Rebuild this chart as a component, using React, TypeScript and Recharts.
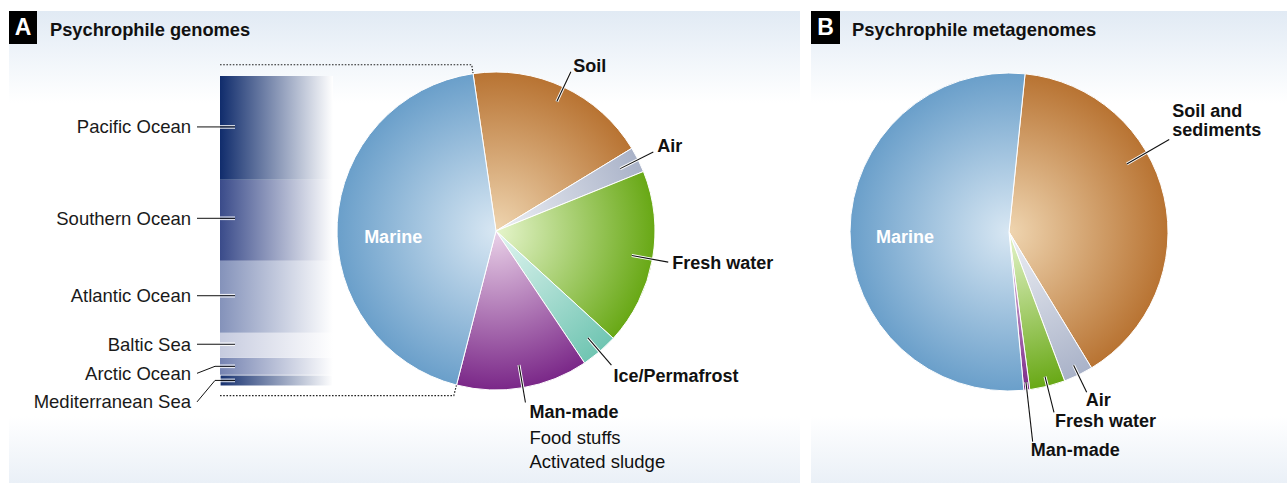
import * as React from "react";
import { Bar, BarChart, Cell, LabelList, Pie, PieChart, XAxis, YAxis } from "recharts";

const FONT = '"Liberation Sans", Arial, Helvetica, sans-serif';

// Panel A: psychrophile genomes by isolation habitat (share, %), clockwise from the top
const genomeHabitats = ["Soil", "Air", "Fresh water", "Ice/Permafrost", "Man-made", "Marine"];
const genomeShares = [18.6, 2.6, 17.9, 3.8, 13.4, 43.7];

// Marine genomes split by ocean / sea (share of marine, %), stacked bottom to top
const marineRegions = [
  "Mediterranean Sea",
  "Arctic Ocean",
  "Baltic Sea",
  "Atlantic Ocean",
  "Southern Ocean",
  "Pacific Ocean",
];
const marineShares = [3.6, 5.5, 8.1, 23.2, 26.1, 33.5];

// Panel B: psychrophile metagenomes by habitat (share, %)
const metaHabitats = ["Soil and sediments", "Air", "Fresh water", "Man-made", "Marine"];
const metaShares = [39.7, 3.0, 3.6, 0.6, 53.1];

const genomeData = genomeHabitats.map((name, i) => ({ name, value: genomeShares[i] }));
const metaData = metaHabitats.map((name, i) => ({ name, value: metaShares[i] }));
const marineRow: Record<string, number | string> = { name: "Marine" };
marineRegions.forEach((r, i) => (marineRow[r] = marineShares[i]));

// radial gradient colours: [centre, rim]
const SLICE_COLORS: Record<string, [string, string]> = {
  Marine: ["#d8e7f3", "#6a9fca"],
  Soil: ["#efd5b0", "#b87332"],
  "Soil and sediments": ["#efd5b0", "#b87332"],
  Air: ["#eef0f5", "#a9b2c8"],
  "Fresh water": ["#e6f5cc", "#68a815"],
  "Ice/Permafrost": ["#e2f5f1", "#70c5b2"],
  "Man-made": ["#ead2e8", "#7a2788"],
};

const REGION_COLORS: Record<string, string> = {
  "Pacific Ocean": "#102c6c",
  "Southern Ocean": "#3a4b8a",
  "Atlantic Ocean": "#8492ba",
  "Baltic Sea": "#c6cbdf",
  "Arctic Ocean": "#7583b1",
  "Mediterranean Sea": "#15306f",
};

// text offset of each region label from the middle of its segment
const REGION_TEXT_DY: Record<string, number> = {
  "Pacific Ocean": -1,
  "Southern Ocean": -2,
  "Atlantic Ocean": -1,
  "Baltic Sea": -1,
  "Arctic Ocean": 7,
  "Mediterranean Sea": 21.5,
};

type LabelCfg = {
  inside?: boolean;
  angle?: number; // clockwise from 12 o'clock, overrides the slice middle
  r1: number;
  r2: number;
  dx: number;
  anchor: "start" | "middle" | "end";
  lines: { text: string; dy: number; bold?: boolean }[];
};

const GENOME_LABELS: Record<string, LabelCfg> = {
  Marine: { inside: true, r1: 0, r2: 103, dx: 0, anchor: "middle", lines: [{ text: "Marine", dy: 11.5, bold: true }] },
  Soil: { r1: 143, r2: 176, dx: 19, anchor: "middle", lines: [{ text: "Soil", dy: -6, bold: true }] },
  Air: { r1: 139, r2: 176, dx: 4, anchor: "start", lines: [{ text: "Air", dy: -6, bold: true }] },
  "Fresh water": { r1: 138, r2: 175, dx: 4, anchor: "start", lines: [{ text: "Fresh water", dy: 1, bold: true }] },
  "Ice/Permafrost": { r1: 141, r2: 177, dx: 2, anchor: "start", lines: [{ text: "Ice/Permafrost", dy: 11, bold: true }] },
  "Man-made": {
    r1: 136,
    r2: 174,
    dx: 4,
    anchor: "start",
    lines: [
      { text: "Man-made", dy: 10, bold: true },
      { text: "Food stuffs", dy: 35 },
      { text: "Activated sludge", dy: 59 },
    ],
  },
};

const META_LABELS: Record<string, LabelCfg> = {
  Marine: { inside: true, r1: 0, r2: 104, dx: 0, anchor: "middle", lines: [{ text: "Marine", dy: 5, bold: true }] },
  "Soil and sediments": {
    angle: 60,
    r1: 136,
    r2: 185,
    dx: 3,
    anchor: "start",
    lines: [
      { text: "Soil and", dy: -28.5, bold: true },
      { text: "sediments", dy: -9.5, bold: true },
    ],
  },
  Air: { r1: 148, r2: 178, dx: -1, anchor: "start", lines: [{ text: "Air", dy: 8, bold: true }] },
  "Fresh water": { r1: 149, r2: 186, dx: 1, anchor: "start", lines: [{ text: "Fresh water", dy: 9, bold: true }] },
  "Man-made": { r1: 151, r2: 211, dx: -2, anchor: "start", lines: [{ text: "Man-made", dy: 8, bold: true }] },
};

const RAD = Math.PI / 180;
const polar = (cx: number, cy: number, r: number, deg: number) => ({
  x: cx + r * Math.cos(-deg * RAD),
  y: cy + r * Math.sin(-deg * RAD),
});

function makePieLabel(cfgs: Record<string, LabelCfg>) {
  return (props: any) => {
    const { cx, cy, midAngle, name } = props;
    const c = cfgs[name];
    if (!c) return null;
    const ang = c.angle != null ? 90 - c.angle : midAngle;
    const end = polar(cx, cy, c.r2, ang);
    if (c.inside) {
      return (
        <text
          x={end.x}
          y={end.y + c.lines[0].dy}
          textAnchor="middle"
          dominantBaseline="central"
          fill="#ffffff"
          fontFamily={FONT}
          fontSize={18}
          fontWeight={700}
        >
          {c.lines[0].text}
        </text>
      );
    }
    const start = polar(cx, cy, c.r1, ang);
    return (
      <g>
        <line x1={start.x} y1={start.y} x2={end.x} y2={end.y} stroke="#ffffff" strokeWidth={3} />
        <line x1={start.x} y1={start.y} x2={end.x} y2={end.y} stroke="#111111" strokeWidth={1.1} />
        {c.lines.map((ln, i) => (
          <text
            key={i}
            x={end.x + c.dx}
            y={end.y + ln.dy}
            textAnchor={c.anchor}
            dominantBaseline="central"
            fill="#111111"
            fontFamily={FONT}
            fontSize={ln.bold ? 18 : 18.5}
            fontWeight={ln.bold ? 700 : 400}
          >
            {ln.text}
          </text>
        ))}
      </g>
    );
  };
}

function Gradients({ prefix, cx, cy, r }: { prefix: string; cx: number; cy: number; r: number }) {
  return (
    <defs>
      {Object.entries(SLICE_COLORS).map(([name, [c0, c1]]) => (
        <radialGradient
          key={name}
          id={`${prefix}-${name.replace(/[^a-z]/gi, "")}`}
          gradientUnits="userSpaceOnUse"
          cx={cx}
          cy={cy}
          r={r}
        >
          <stop offset="0%" stopColor={c0} />
          <stop offset="100%" stopColor={c1} />
        </radialGradient>
      ))}
    </defs>
  );
}

const gradId = (prefix: string, name: string) => `url(#${prefix}-${name.replace(/[^a-z]/gi, "")})`;

function RegionLabel(props: any) {
  const vb = props.viewBox ?? props;
  const x = vb.x ?? props.x;
  const y = vb.y ?? props.y;
  const h = vb.height ?? props.height;
  const name: string = props.regionName;
  const top = Math.min(y, y + h);
  const mid = top + Math.abs(h) / 2;
  const dy = REGION_TEXT_DY[name] ?? 0;
  const ty = mid + dy;
  const bent = Math.abs(dy) > 4;
  const lineY = bent ? mid : ty;
  const leftX = x - 23;
  return (
    <g>
      {bent ? (
        <polyline points={`${leftX},${ty} ${x - 5},${mid} ${x + 15},${mid}`} fill="none" stroke="#111" strokeWidth={1} />
      ) : (
        <line x1={leftX} y1={ty} x2={x + 15} y2={ty} stroke="#111" strokeWidth={1} />
      )}
      <line x1={x} y1={lineY - 1.3} x2={x + 15} y2={lineY - 1.3} stroke="#fff" strokeWidth={0.9} />
      <line x1={x} y1={lineY + 1.3} x2={x + 15} y2={lineY + 1.3} stroke="#fff" strokeWidth={0.9} />
      <text
        x={x - 29}
        y={ty}
        textAnchor="end"
        dominantBaseline="central"
        fill="#1a1a1a"
        fontFamily={FONT}
        fontSize={18.5}
      >
        {name}
      </text>
    </g>
  );
}

const A_CX = 496;
const A_CY = 231;
const A_R = 159;
const B_CX = 209;
const B_CY = 232;
const B_R = 159;
const NO_MARGIN = { top: 0, right: 0, bottom: 0, left: 0 };

const panelBg =
  "linear-gradient(to bottom, #e1eaf4 0px, #f3f7fb 55px, #ffffff 92px, #ffffff 405px, #eaf0f7 472px)";

export default function App() {
  // connector from the marine column to the marine slice edges
  const total = genomeShares.reduce((s, v) => s + v, 0);
  const startCw = -8.3; // clockwise angle where the first slice starts
  const marineStart = startCw + (360 * (total - genomeShares[5])) / total;
  const marineEnd = startCw + 360;
  const pt = (r: number, cw: number) => ({
    x: A_CX + r * Math.sin(cw * RAD),
    y: A_CY - r * Math.cos(cw * RAD),
  });
  const tOut = pt(168, marineEnd);
  const tIn = pt(140, marineEnd);
  const bOut = pt(170, marineStart);
  const bIn = pt(137, marineStart);

  return (
    <div style={{ position: "absolute", left: 0, top: 0, width: 1287, height: 483, background: "#fff", fontFamily: FONT, overflow: "hidden" }}>
      <div style={{ position: "absolute", left: 9, top: 11, width: 791, height: 472, background: panelBg }} />
      <div style={{ position: "absolute", left: 811, top: 11, width: 476, height: 472, background: panelBg }} />

      <div style={{ position: "absolute", left: 9, top: 11, width: 28, height: 33, background: "#000", color: "#fff", fontWeight: 700, fontSize: 23, lineHeight: "33px", textAlign: "center" }}>A</div>
      <div style={{ position: "absolute", left: 50, top: 19, height: 22, lineHeight: "22px", fontSize: 18.3, fontWeight: 700, color: "#111" }}>Psychrophile genomes</div>
      <div style={{ position: "absolute", left: 811, top: 11, width: 29, height: 33, background: "#000", color: "#fff", fontWeight: 700, fontSize: 23, lineHeight: "33px", textAlign: "center" }}>B</div>
      <div style={{ position: "absolute", left: 852, top: 19, height: 22, lineHeight: "22px", fontSize: 18.4, fontWeight: 700, color: "#111" }}>Psychrophile metagenomes</div>

      <div style={{ position: "absolute", left: 0, top: 0 }}>
        <BarChart
          width={340}
          height={483}
          data={[marineRow]}
          margin={{ top: 76, right: 7, bottom: 97, left: 220 }}
          barCategoryGap={0}
        >
          <defs>
            {marineRegions.map((r) => (
              <linearGradient key={r} id={`reg-${r.replace(/[^a-z]/gi, "")}`} x1="0" y1="0" x2="1" y2="0">
                <stop offset="0%" stopColor={REGION_COLORS[r]} />
                <stop offset="100%" stopColor="#ffffff" />
              </linearGradient>
            ))}
          </defs>
          <XAxis dataKey="name" hide />
          <YAxis hide domain={[0, 100]} />
          {marineRegions.map((r) => (
            <Bar
              key={r}
              dataKey={r}
              stackId="marine"
              fill={`url(#reg-${r.replace(/[^a-z]/gi, "")})`}
              stroke={r === "Mediterranean Sea" ? "#ffffff" : "none"}
              strokeWidth={r === "Mediterranean Sea" ? 1.2 : 0}
              isAnimationActive={false}
            >
              <LabelList dataKey={r} content={(p: any) => <RegionLabel {...p} regionName={r} />} />
            </Bar>
          ))}
        </BarChart>
      </div>

      <div style={{ position: "absolute", left: 0, top: 0 }}>
        <PieChart width={800} height={483} margin={NO_MARGIN}>
          <Gradients prefix="ga" cx={A_CX} cy={A_CY} r={A_R} />
          <Pie
            data={genomeData}
            dataKey="value"
            nameKey="name"
            cx={A_CX}
            cy={A_CY}
            outerRadius={A_R}
            startAngle={90 - startCw}
            endAngle={90 - startCw - 360}
            stroke="#ffffff"
            strokeWidth={1}
            label={makePieLabel(GENOME_LABELS)}
            labelLine={false}
            isAnimationActive={false}
          >
            {genomeData.map((d) => (
              <Cell key={d.name} fill={gradId("ga", d.name)} />
            ))}
          </Pie>
          <path
            d={`M220 ${tOut.y} L${tOut.x} ${tOut.y} L${tIn.x} ${tIn.y}`}
            fill="none"
            stroke="#222"
            strokeWidth={1.2}
            strokeDasharray="1.6 1.6"
          />
          <path
            d={`M220 ${bOut.y} L${bOut.x} ${bOut.y} L${bIn.x} ${bIn.y}`}
            fill="none"
            stroke="#222"
            strokeWidth={1.2}
            strokeDasharray="1.6 1.6"
          />
        </PieChart>
      </div>

      <div style={{ position: "absolute", left: 800, top: 0 }}>
        <PieChart width={487} height={483} margin={NO_MARGIN}>
          <Gradients prefix="gb" cx={B_CX} cy={B_CY} r={B_R} />
          <Pie
            data={metaData}
            dataKey="value"
            nameKey="name"
            cx={B_CX}
            cy={B_CY}
            outerRadius={B_R}
            startAngle={84.2}
            endAngle={84.2 - 360}
            stroke="#ffffff"
            strokeWidth={1}
            label={makePieLabel(META_LABELS)}
            labelLine={false}
            isAnimationActive={false}
          >
            {metaData.map((d) => (
              <Cell key={d.name} fill={gradId("gb", d.name)} />
            ))}
          </Pie>
        </PieChart>
      </div>
    </div>
  );
}
